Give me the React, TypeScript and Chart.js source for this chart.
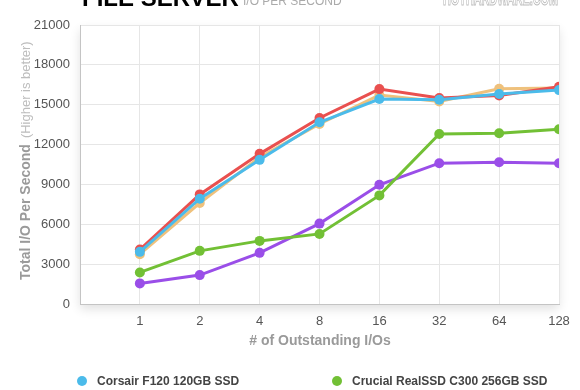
import React, { useEffect, useRef } from "react";
import { Chart, registerables } from "chart.js";

Chart.register(...registerables);

const xLabels = ["1", "2", "4", "8", "16", "32", "64", "128"];
const corsairF120 = [3925, 7925, 10850, 13675, 15425, 15375, 15800, 16100];
const redDrive = [4100, 8250, 11300, 14000, 16175, 15500, 15700, 16350];
const orangeDrive = [3750, 7600, 11050, 13550, 15725, 15250, 16200, 16250];
const crucialC300 = [2375, 4000, 4750, 5275, 8175, 12800, 12850, 13150];
const purpleDrive = [1550, 2175, 3850, 6050, 8975, 10600, 10675, 10600];

const seriesNames = [
  "Corsair F120 120GB SSD",
  "OCZ Vertex 2 120GB SSD",
  "OCZ Agility 2 120GB SSD",
  "Crucial RealSSD C300 256GB SSD",
  "Intel X25-M G2 160GB SSD",
];
const seriesColors = ["#4bbbea", "#e9504f", "#efc17c", "#72c035", "#9a4ee8"];
const seriesValues = [corsairF120, redDrive, orangeDrive, crucialC300, purpleDrive];
const legendOrder = [0, 3, 1, 2, 4];

const yMax = 21000;
const yStep = 3000;

const FONT = "'Liberation Sans', Arial, Helvetica, sans-serif";

const decorPlugin = {
  id: "decor",
  beforeDraw(chart: any) {
    const { ctx, chartArea: a } = chart;
    ctx.save();
    ctx.fillStyle = "#fff";
    ctx.fillRect(0, 0, chart.width, chart.height);
    ctx.shadowColor = "rgba(0,0,0,0.12)";
    ctx.shadowBlur = 10;
    ctx.shadowOffsetY = 5;
    ctx.fillRect(a.left, a.top, a.right - a.left, a.bottom - a.top);
    ctx.restore();
  },
  afterDraw(chart: any) {
    const { ctx } = chart;
    ctx.save();
    // header
    ctx.fillStyle = "#000";
    ctx.font = `bold 24px ${FONT}`;
    ctx.textBaseline = "alphabetic";
    ctx.textAlign = "left";
    ctx.fillText("FILE SERVER", 82, 6);
    ctx.fillStyle = "#aaa";
    ctx.font = `12px ${FONT}`;
    ctx.fillText("I/O PER SECOND", 243, 5);
    ctx.strokeStyle = "#bbb";
    ctx.lineWidth = 1;
    ctx.font = `bold 20px ${FONT}`;
    ctx.strokeText("HOTHARDWARE.COM", 443, 5, 115);

    // x title
    ctx.fillStyle = "#9a9a9a";
    ctx.font = `bold 14px ${FONT}`;
    ctx.textAlign = "center";
    ctx.textBaseline = "middle";
    ctx.fillText("# of Outstanding I/Os", 320, 341);

    // y title
    ctx.save();
    ctx.translate(30, 280);
    ctx.rotate(-Math.PI / 2);
    ctx.textAlign = "left";
    ctx.textBaseline = "alphabetic";
    ctx.font = `bold 14px ${FONT}`;
    ctx.fillStyle = "#9a9a9a";
    const t1 = "Total I/O Per Second";
    ctx.fillText(t1, 0, 0);
    const w = ctx.measureText(t1).width;
    ctx.font = `13px ${FONT}`;
    ctx.fillStyle = "#bdbdbd";
    ctx.fillText("(Higher is better)", w + 6, 0);
    ctx.restore();

    // legend
    ctx.textAlign = "left";
    ctx.textBaseline = "middle";
    ctx.font = `bold 12px ${FONT}`;
    legendOrder.forEach((idx, i) => {
      const col = i % 2;
      const row = Math.floor(i / 2);
      const x = col === 0 ? 82 : 337;
      const y = 381 + row * 23;
      ctx.beginPath();
      ctx.arc(x, y, 5, 0, Math.PI * 2);
      ctx.fillStyle = seriesColors[idx];
      ctx.fill();
      ctx.fillStyle = "#444";
      ctx.fillText(seriesNames[idx], x + 15, y + 1);
    });
    ctx.restore();
  },
};

export default function App() {
  const ref = useRef<HTMLCanvasElement>(null);
  useEffect(() => {
    if (!ref.current) return;
    const chart = new Chart(ref.current, {
      type: "line",
      data: {
        datasets: seriesValues.map((vals, si) => ({
          label: seriesNames[si],
          data: vals.map((v, i) => ({ x: i + 1, y: v })),
          borderColor: seriesColors[si],
          backgroundColor: seriesColors[si],
          pointBackgroundColor: seriesColors[si],
          pointBorderColor: seriesColors[si],
          borderWidth: 3,
          pointRadius: 5,
          pointBorderWidth: 0,
          tension: 0,
          fill: false,
        })),
      },
      options: {
        responsive: false,
        animation: false,
        layout: { padding: { top: 25, right: 21, left: 0, bottom: 0 } },
        plugins: {
          legend: { display: false },
          tooltip: { enabled: false },
          title: { display: false },
        },
        scales: {
          x: {
            type: "linear",
            min: 0,
            max: xLabels.length,
            afterFit: (s: any) => {
              s.height = 86;
            },
            ticks: {
              stepSize: 1,
              autoSkip: false,
              maxRotation: 0,
              padding: 10,
              color: "#555",
              font: { family: FONT, size: 13 },
              callback: (v: any) => xLabels[Number(v) - 1] ?? "",
            },
            grid: { color: "#e6e6e6", drawTicks: false, lineWidth: 1 },
            border: { display: true, color: "#c4c4c4" },
          },
          y: {
            min: 0,
            max: yMax,
            afterFit: (s: any) => {
              s.width = 80;
            },
            ticks: {
              stepSize: yStep,
              padding: 10,
              color: "#555",
              font: { family: FONT, size: 13 },
              callback: (v: any) => String(v),
            },
            grid: { color: "#e6e6e6", drawTicks: false, lineWidth: 1 },
            border: { display: true, color: "#c4c4c4" },
          },
        },
      },
      plugins: [decorPlugin],
    });
    return () => chart.destroy();
  }, []);
  return (
    <div style={{ position: "fixed", left: 0, top: 0, width: 580, height: 390 }}>
      <canvas ref={ref} width={580} height={390} style={{ display: "block" }} />
    </div>
  );
}
